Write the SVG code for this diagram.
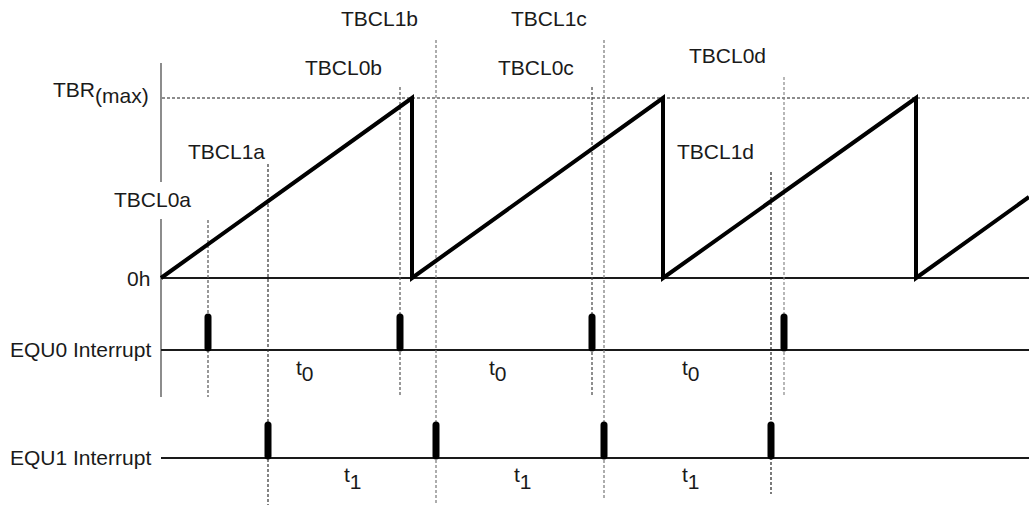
<svg xmlns="http://www.w3.org/2000/svg" width="1029" height="505" viewBox="0 0 1029 505">
<style>
text{font-family:"Liberation Sans",Arial,sans-serif;font-size:21px;fill:#1a1a1a}
.axis{stroke:#707070;stroke-width:1.6;fill:none}
.base{stroke:#1a1a1a;stroke-width:1.8;fill:none}
.ref{stroke:#1a1a1a;stroke-width:1;stroke-dasharray:3 2;fill:none}
.guide{stroke-width:1.2;stroke-dasharray:3 2;fill:none}
.saw{stroke:#000;stroke-width:4;fill:none;stroke-linejoin:miter}
.pulse{stroke:#000;stroke-width:7;stroke-linecap:round}
</style>
<rect width="1029" height="505" fill="#fff"/>
<g id="axes">
<line class="axis" x1="161" y1="63" x2="161" y2="182"/>
<line class="axis" x1="161" y1="219" x2="161" y2="397"/>
<line class="ref" x1="162" y1="98" x2="1029" y2="98"/>
<line class="base" x1="161" y1="278" x2="1029" y2="278"/>
<line class="base" x1="161" y1="350" x2="1029" y2="350"/>
<line class="base" x1="161" y1="458" x2="1029" y2="458"/>
</g>
<g id="connectors">
<line class="guide" stroke="#555" x1="208" y1="220" x2="208" y2="397"/>
<line class="guide" stroke="#333" x1="268" y1="164" x2="268" y2="505"/>
<line class="guide" stroke="#555" x1="400" y1="87" x2="400" y2="397"/>
<line class="guide" stroke="#777" x1="436" y1="40" x2="436" y2="505"/>
<line class="guide" stroke="#444" x1="592" y1="87" x2="592" y2="397"/>
<line class="guide" stroke="#777" x1="604" y1="40" x2="604" y2="500"/>
<line class="guide" stroke="#222" x1="771" y1="172" x2="771" y2="494"/>
<line class="guide" stroke="#888" x1="784" y1="77" x2="784" y2="397"/>
</g>
<g id="sawtooth">
<polyline class="saw" points="161,278 412,98 412,278 663,98 663,278 916,98 916,278 1029,197"/>
</g>
<g id="equ0-pulses">
<line class="pulse" x1="208" y1="317" x2="208" y2="348"/>
<line class="pulse" x1="400" y1="317" x2="400" y2="348"/>
<line class="pulse" x1="592" y1="317" x2="592" y2="348"/>
<line class="pulse" x1="784" y1="317" x2="784" y2="348"/>
</g>
<g id="equ1-pulses">
<line class="pulse" x1="268" y1="425" x2="268" y2="456"/>
<line class="pulse" x1="436" y1="425" x2="436" y2="456"/>
<line class="pulse" x1="604" y1="425" x2="604" y2="456"/>
<line class="pulse" x1="771" y1="425" x2="771" y2="456"/>
</g>
<g id="labels">
<text x="53" y="97">TBR<tspan dy="6">(max)</tspan></text>
<text x="127" y="286">0h</text>
<text x="114" y="207">TBCL0a</text>
<text x="188" y="159">TBCL1a</text>
<text x="305" y="75">TBCL0b</text>
<text x="341" y="26">TBCL1b</text>
<text x="498" y="75">TBCL0c</text>
<text x="511" y="26">TBCL1c</text>
<text x="689" y="63">TBCL0d</text>
<text x="677" y="159">TBCL1d</text>
<text x="10" y="357">EQU0 Interrupt</text>
<text x="10" y="465">EQU1 Interrupt</text>
<text x="296" y="375">t<tspan dy="6">0</tspan></text>
<text x="489" y="375">t<tspan dy="6">0</tspan></text>
<text x="682" y="375">t<tspan dy="6">0</tspan></text>
<text x="344" y="482">t<tspan dy="7">1</tspan></text>
<text x="514" y="482">t<tspan dy="7">1</tspan></text>
<text x="682" y="482">t<tspan dy="7">1</tspan></text>
</g>
</svg>
